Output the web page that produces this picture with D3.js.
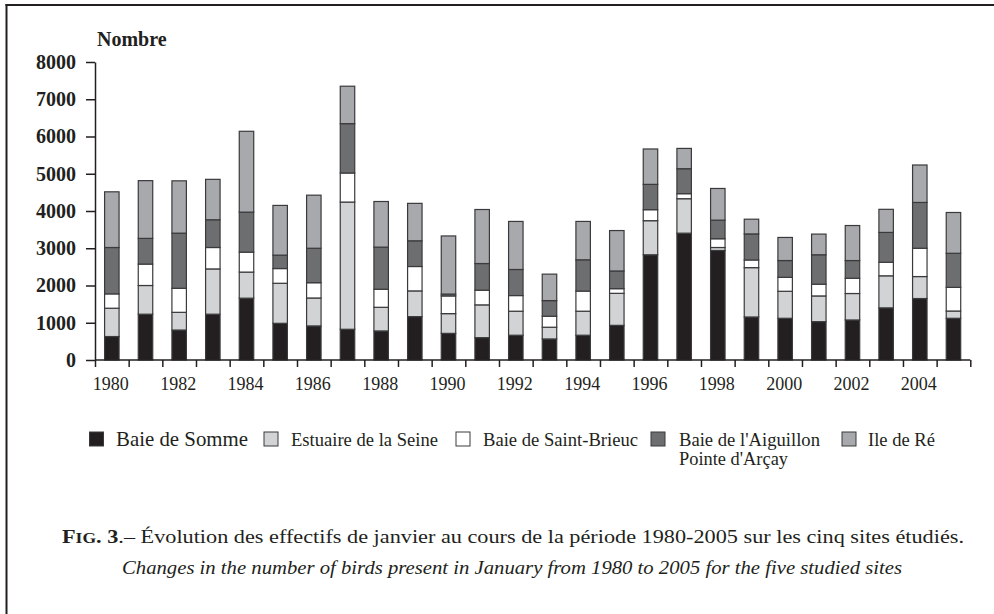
<!DOCTYPE html>
<html><head><meta charset="utf-8">
<script src="https://cdn.jsdelivr.net/npm/d3@7"></script>
<style>
html,body{margin:0;padding:0;background:#fff;}
svg{display:block;}
text{font-family:"Liberation Serif","Times New Roman",serif;fill:#231f20;}
</style></head>
<body>
<svg id="chart" width="994" height="614"></svg>
<script>
const years = d3.range(1980, 2006);
const seriesNames = ["Baie de Somme","Estuaire de la Seine","Baie de Saint-Brieuc","Baie de l'Aiguillon","Ile de Ré"];
const baieDeSomme   = [630,1230,805,1230,1660,985,915,825,780,1165,715,600,665,565,665,930,2825,3405,2940,1155,1120,1030,1075,1400,1650,1120];
const estuaireSeine = [760,770,475,1215,700,1075,750,3415,635,690,530,880,645,315,645,860,915,925,80,1325,725,690,710,860,590,195];
const baieStBrieuc  = [385,575,645,575,535,395,410,780,485,655,475,395,420,295,540,125,295,135,235,205,375,315,410,365,760,635];
const baieAiguillon = [1245,690,1480,745,1075,360,925,1325,1130,690,50,715,700,420,840,475,680,670,500,700,450,790,475,800,1230,915];
const ileDeRe       = [1495,1550,1405,1085,2170,1335,1425,1005,1225,1005,1560,1450,1290,710,1030,1085,950,545,850,395,620,555,940,620,1005,1095];
const yTicks = [0,1000,2000,3000,4000,5000,6000,7000,8000];
const xLabels = [1980,1982,1984,1986,1988,1990,1992,1994,1996,1998,2000,2002,2004];

const colors = ["#231f20","#d1d3d4","#ffffff","#6d6e70","#a7a9ac"];
const allSeries = [baieDeSomme, estuaireSeine, baieStBrieuc, baieAiguillon, ileDeRe];

const svg = d3.select("#chart");
// frame
svg.append("line").attr("x1",6.5).attr("x2",6.5).attr("y1",4).attr("y2",614).attr("stroke","#231f20").attr("stroke-width",2);
svg.append("line").attr("x1",5.5).attr("x2",994).attr("y1",5).attr("y2",5).attr("stroke","#231f20").attr("stroke-width",2);

const x0 = 95, x1 = 970.3;
const x = d3.scaleBand().domain(years).range([x0, x1]).paddingInner(0.57).paddingOuter(0.285);
const xb = d3.scaleLinear().domain([1980, 2006]).range([x0, x1]);
const y = d3.scaleLinear().domain([0, 8000]).range([360, 62]);

const rows = years.map((yr,i)=>{const r={year:yr}; seriesNames.forEach((n,k)=>r[n]=allSeries[k][i]); return r;});
const stack = d3.stack().keys(seriesNames)(rows);

const g = svg.append("g");
stack.forEach((layer,k)=>{
  g.append("g").selectAll("rect").data(layer).join("rect")
    .attr("x", d=>x(d.data.year))
    .attr("width", x.bandwidth())
    .attr("y", d=>y(d[1]))
    .attr("height", d=>y(d[0])-y(d[1]))
    .attr("fill", colors[k])
    .attr("stroke", "#3a3a3c")
    .attr("stroke-width", 1.2);
});

// x axis: boundary ticks
const xAxisG = svg.append("g").attr("transform","translate(0,360)")
  .call(d3.axisBottom(xb).tickValues(d3.range(1980,2007)).tickSize(7).tickFormat(""));
xAxisG.select(".domain").attr("stroke","#231f20").attr("stroke-width",1.5).attr("d",`M${x0},0H${x1}`);
xAxisG.selectAll(".tick line").attr("stroke","#231f20").attr("stroke-width",1.5);

const xLab = svg.append("g").attr("transform","translate(0,360)")
  .call(d3.axisBottom(x).tickValues(xLabels).tickSize(0).tickPadding(17));
xLab.select(".domain").remove();
xLab.selectAll("text").attr("font-family","Liberation Serif, serif").attr("font-size",18).attr("fill","#231f20").attr("dx",-1);

// y axis
const yAxisG = svg.append("g").attr("transform",`translate(${x0},0)`)
  .call(d3.axisLeft(y).tickValues(yTicks).tickFormat(d3.format("d")).tickSize(9).tickPadding(10).tickSizeOuter(0));
yAxisG.select(".domain").attr("stroke","#231f20").attr("stroke-width",1.5);
yAxisG.selectAll(".tick line").attr("stroke","#231f20").attr("stroke-width",1.5);
yAxisG.selectAll("text").attr("font-family","Liberation Serif, serif").attr("font-size",20).attr("font-weight","bold").attr("fill","#231f20");

svg.append("text").attr("x",97).attr("y",46).attr("font-size",20).attr("font-weight","bold").text("Nombre");

// legend
const legend = [
  {sw:89.5, tx:116, size:21, w:132},
  {sw:264, tx:291, size:18.5, w:147},
  {sw:456, tx:483, size:18.5, w:155},
  {sw:651, tx:679, size:18.5, w:141},
  {sw:842, tx:868, size:18.5, w:67}
];
legend.forEach((L,k)=>{
  svg.append("rect").attr("x",L.sw).attr("y",432).attr("width",14).attr("height",14)
    .attr("fill",colors[k]).attr("stroke","#3a3a3c").attr("stroke-width",1);
  const label = k===3 ? "Baie de l'Aiguillon" : seriesNames[k];
  svg.append("text").attr("x",L.tx).attr("y",446).attr("font-size",L.size)
    .attr("textLength",L.w).attr("lengthAdjust","spacingAndGlyphs").text(label);
});
svg.append("text").attr("x",679).attr("y",465).attr("font-size",18.5)
  .attr("textLength",109).attr("lengthAdjust","spacingAndGlyphs").text("Pointe d'Arçay");

// caption
const cap = svg.append("text").attr("x",62).attr("y",543).attr("font-size",19)
  .attr("textLength",902).attr("lengthAdjust","spacingAndGlyphs");
cap.append("tspan").attr("font-weight","bold").text("F");
cap.append("tspan").attr("font-weight","bold").attr("font-size",15).text("IG");
cap.append("tspan").attr("font-weight","bold").text(". 3");
cap.append("tspan").text(".– Évolution des effectifs de janvier au cours de la période 1980-2005 sur les cinq sites étudiés.");
svg.append("text").attr("x",122).attr("y",574).attr("font-size",19).attr("font-style","italic")
  .attr("textLength",780).attr("lengthAdjust","spacingAndGlyphs")
  .text("Changes in the number of birds present in January from 1980 to 2005 for the five studied sites");
</script>
</body></html>
